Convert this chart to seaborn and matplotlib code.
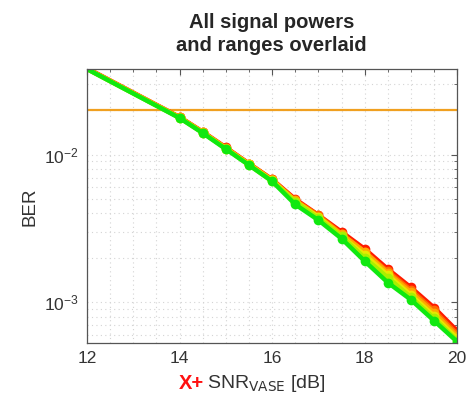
import numpy as np
import pandas as pd
import matplotlib
matplotlib.use("Agg")
import matplotlib.pyplot as plt
import seaborn as sns
from matplotlib.ticker import MultipleLocator, LogLocator, NullFormatter

snr_db = [12, 14, 14.5, 15, 15.5, 16, 16.5, 17, 17.5, 18, 18.5, 19, 19.5, 20]
ber_red    = [0.0385, 0.0180, 0.0143, 0.0112, 0.0087, 0.0068, 0.0050, 0.0039, 0.0030, 0.0023, 0.00168, 0.00126, 0.00092, 0.00064]
ber_orange = [0.0383, 0.0179, 0.0142, 0.0111, 0.0087, 0.0068, 0.0049, 0.0039, 0.0029, 0.0022, 0.00162, 0.00121, 0.00088, 0.00061]
ber_amber  = [0.0382, 0.0179, 0.0142, 0.0111, 0.0086, 0.0067, 0.0049, 0.0038, 0.0029, 0.0022, 0.00158, 0.00117, 0.00085, 0.00059]
ber_yellow = [0.0381, 0.0178, 0.0141, 0.0110, 0.0086, 0.0067, 0.0048, 0.0038, 0.0028, 0.0021, 0.00153, 0.00112, 0.00081, 0.00057]
ber_lime   = [0.0380, 0.0178, 0.0141, 0.0110, 0.0085, 0.0066, 0.0048, 0.0037, 0.0028, 0.0020, 0.00147, 0.00108, 0.00078, 0.00055]
ber_green  = [0.0380, 0.0177, 0.0140, 0.0109, 0.0085, 0.0066, 0.0046, 0.0036, 0.0027, 0.0019, 0.00136, 0.00104, 0.00075, 0.00054]
fec_threshold = 0.02

curve_names = ["red", "orange", "amber", "yellow", "lime", "green"]
curve_values = [ber_red, ber_orange, ber_amber, ber_yellow, ber_lime, ber_green]
curve_colors = ["#ff1a00", "#ff6a00", "#ffa800", "#e8e800", "#a8f000", "#10e810"]

rows = []
for name, vals in zip(curve_names, curve_values):
    for s, b in zip(snr_db, vals):
        rows.append({"snr": s, "ber": b, "curve": name})
df = pd.DataFrame(rows)

sns.set_style("white")
plt.rcParams["font.family"] = ["Liberation Sans", "DejaVu Sans"]

fig = plt.figure(figsize=(4.68, 3.97), dpi=100)
ax = fig.add_axes([0.186, 0.136, 0.791, 0.690])

sns.lineplot(data=df, x="snr", y="ber", hue="curve", hue_order=curve_names,
             palette=dict(zip(curve_names, curve_colors)), marker="o",
             markersize=7, markeredgewidth=0, linewidth=3.2, sort=False,
             markevery=list(range(1, len(snr_db))), legend=False, ax=ax)

ax.axhline(fec_threshold, color="#f0a020", lw=1.6, zorder=1)

ax.set_yscale("log")
ax.set_xlim(12, 20)
ax.set_ylim(5.3e-4, 0.038)
ax.xaxis.set_major_locator(MultipleLocator(2))
ax.xaxis.set_minor_locator(MultipleLocator(0.5))
ax.yaxis.set_major_locator(LogLocator(base=10))
ax.yaxis.set_minor_locator(LogLocator(base=10, subs=np.arange(2, 10)))
ax.yaxis.set_minor_formatter(NullFormatter())
ax.grid(True, which="both", ls=(0, (1, 3)), color="#d4d4d4", lw=0.8)
ax.set_axisbelow(True)
ax.tick_params(which="both", direction="in", top=True, right=True, colors="#555555",
               labelcolor="#333333", labelsize=12.5)
ax.tick_params(which="major", length=4, pad=6)
ax.tick_params(which="minor", length=2)
for sp in ax.spines.values():
    sp.set_color("#555555")
    sp.set_linewidth(0.9)
ax.set_xlabel("")
ax.set_ylabel("")
fig.text(0.065, 0.48, "BER", rotation=90, fontsize=13.5, color="#333333", ha="center", va="center")

fig.text(0.58, 0.915, "All signal powers\nand ranges overlaid", ha="center", va="center",
         fontsize=14.5, fontweight="bold", linespacing=1.25)
fig.text(0.383, 0.035, "X+", color="#ff1010", fontsize=14.5, fontweight="bold", ha="left", va="center")
fig.text(0.443, 0.035, r"SNR$_{\mathrm{VASE}}$ [dB]", color="#333333", fontsize=14, ha="left", va="center")

fig.savefig("out.png", dpi=100)
